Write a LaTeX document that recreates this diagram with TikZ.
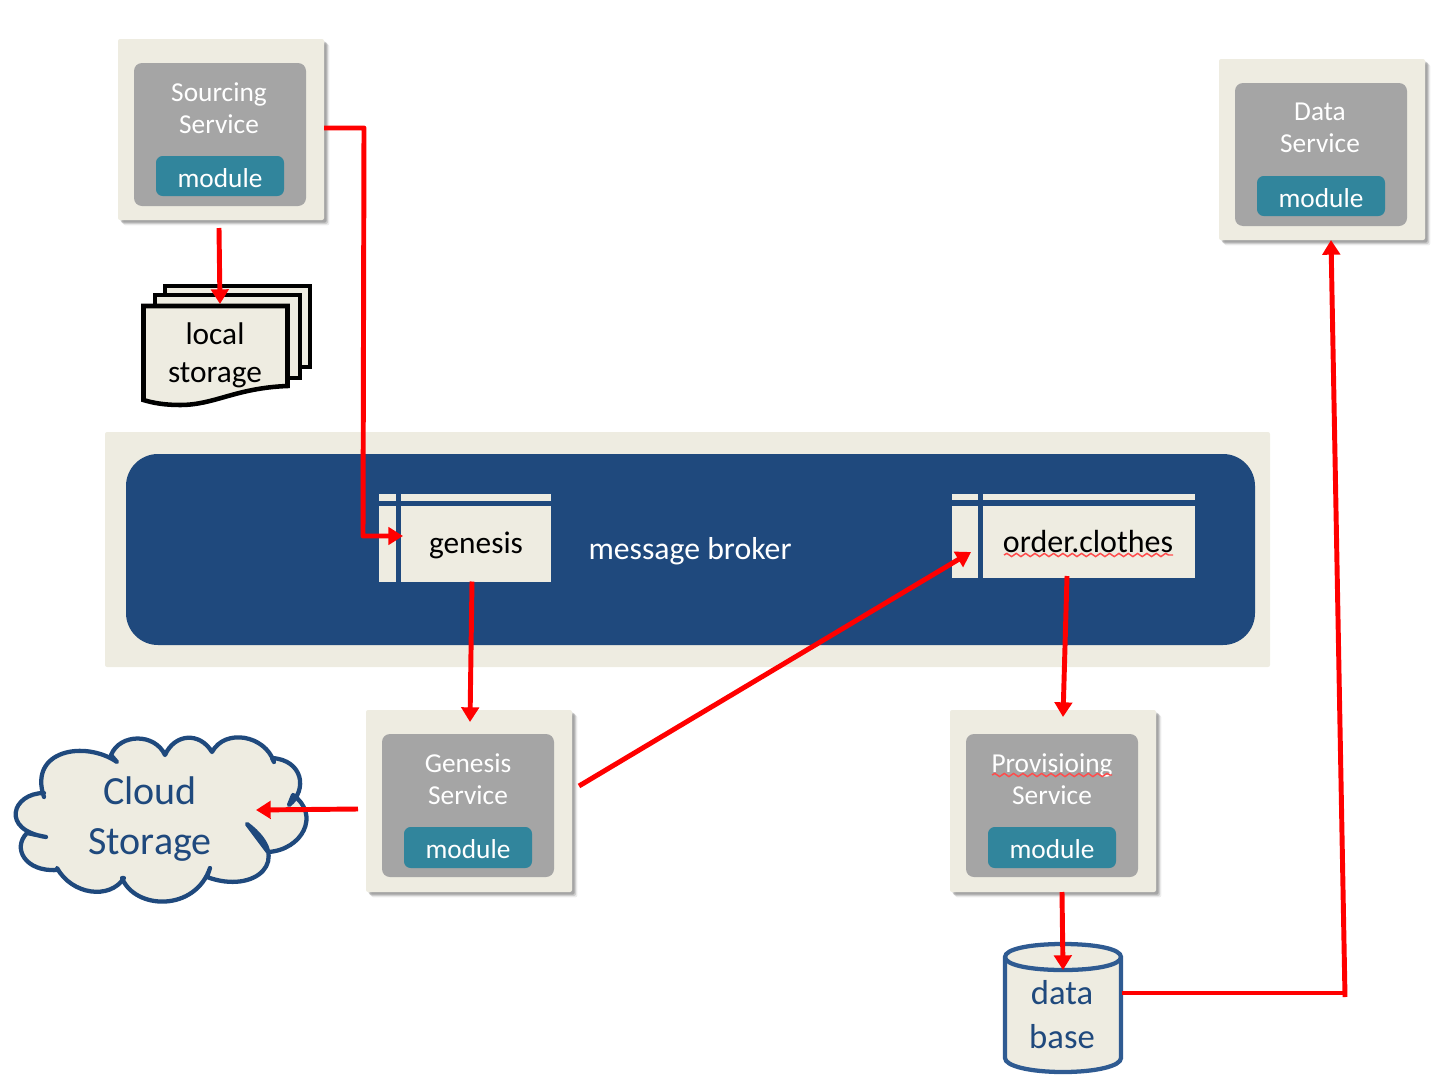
\documentclass[tikz,border=0pt]{standalone}
\usepackage{fontspec}
\setmainfont{Carlito}
\usetikzlibrary{arrows.meta,calc,shadows,decorations.pathmorphing}
\definecolor{beige}{HTML}{EEECE1}
\definecolor{greybox}{HTML}{A5A5A5}
\definecolor{tealbox}{HTML}{31859C}
\definecolor{navy}{HTML}{1F497D}
\definecolor{cylline}{HTML}{2F5B92}
\newcommand{\cloudpath}{(44,793) .. controls (12,793) and (0,830) .. (46,837)
  -- (27,833) .. controls (12,848) and (25,872) .. (57,870)
  -- (57,868) .. controls (72,895) and (110,900) .. (124,878)
  -- (122,878) .. controls (135,910) and (195,912) .. (210,868)
  -- (207,877) .. controls (255,895) and (295,860) .. (247,824)
  -- (268,852) .. controls (302,850) and (321,815) .. (293,795)
  -- (289,805) .. controls (308,790) and (303,760) .. (272,758)
  -- (274,762) .. controls (265,735) and (225,728) .. (212,752)
  .. controls (200,732) and (175,733) .. (165,755)
  .. controls (155,733) and (120,733) .. (111,755)
  -- (117,762) .. controls (85,740) and (28,750) .. (44,797)}
\tikzset{
  sized/.style 2 args={minimum width=#1*0.75pt,minimum height=#2*0.75pt,inner sep=0pt,outer sep=0pt},
  softshadow/.style={
    general shadow={shadow xshift=4pt,shadow yshift=-4pt,fill=black,opacity=.07,rounded corners=3pt},
    general shadow={shadow xshift=3pt,shadow yshift=-3pt,fill=black,opacity=.13,rounded corners=2pt},
    general shadow={shadow xshift=2pt,shadow yshift=-2pt,fill=black,opacity=.2,rounded corners=2pt}},
  outerbox/.style={fill=beige,rounded corners=1.5pt},
  greyinner/.style={fill=greybox,rounded corners=6pt},
  modulebox/.style={fill=tealbox,rounded corners=5pt},
  moduletext/.style={text=white,font=\fontsize{20.5}{24}\selectfont},
  svctext/.style={text=white,align=center,font=\fontsize{20.5}{24}\selectfont},
  topicfill/.style={fill=beige},
  topictext/.style={text=black,font=\fontsize{23.5}{28}\selectfont},
  conn/.style={draw=red,line width=3.7pt,line join=round,-{Triangle[length=11pt,width=13pt]}},
  plainconn/.style={draw=red,line width=3.7pt,line join=round},
  docsheet/.style={draw=black,fill=beige,line width=3.4pt,line join=miter},
  cloudline/.style={draw=navy,line width=3.2pt,line cap=round,line join=round},
  squiggle/.style={draw=red!70!white,line width=1.1pt,decorate,decoration={snake,amplitude=1.2pt,segment length=7pt}},
}
\begin{document}
\begin{tikzpicture}[x=0.75pt,y=-0.75pt]
\useasboundingbox (0,0) rectangle (1453,1089);
% sourcing service
\node[outerbox,softshadow,sized={206}{181}] (srcouter) at (221,129.5) {};
\node[greyinner,sized={172}{143}] (srcinner) at (220,134.5) {};
\node[svctext] (srctext) at (219,108) {Sourcing\\Service};
\node[modulebox,sized={128}{40}] (srcmod) at (220,176) {};
\node[moduletext] (srcmodt) at (220,178) {module};
% data service
\node[outerbox,softshadow,sized={206}{181}] (dataouter) at (1322,149.5) {};
\node[greyinner,sized={172}{143}] (datainner) at (1321,154.5) {};
\node[svctext] (datatext) at (1320,128) {Data\\Service};
\node[modulebox,sized={128}{40}] (datamod) at (1321,196) {};
\node[moduletext] (datamodt) at (1321,198) {module};
% local storage
\path[docsheet] (165,286) -- (310,286) -- (310,367) -- (290,367) -- (165,367) -- cycle;
\path[docsheet] (155,295) -- (300,295) -- (300,378) -- (280,378) -- (155,378) -- cycle;
\path[docsheet] (143.5,306) -- (287.5,306) -- (287.5,386)
  .. controls (235,388) and (215,405) .. (180,405)
  .. controls (165,405) and (153,403) .. (143.5,400) -- cycle;
\node[align=center,text=black,font=\fontsize{23.5}{28.5}\selectfont] (localtext) at (215,355) {local\\storage};
\coordinate (localtop) at (220,304);
% broker
\node[fill=beige,rounded corners=1.5pt,sized={1165}{235}] (brokerouter) at (687.5,549.5) {};
\node[fill=navy,rounded corners=24pt,sized={1129}{191}] (brokerinner) at (690.5,549.5) {};
\node[text=white,font=\fontsize{23.8}{28}\selectfont] (brokertext) at (690,551) {message broker};
% genesis topic
\fill[topicfill] (379,494) rectangle (396,500.5);
\fill[topicfill] (401,494) rectangle (551,500.5);
\fill[topicfill] (379,506) rectangle (396,581.5);
\node[topicfill,anchor=north west,sized={150}{75.5}] (gentopic) at (401,506) {};
\node[topictext] (gentext) at (476,545) {genesis};
% order topic
\fill[topicfill] (952,494) rectangle (978,500);
\fill[topicfill] (983,494) rectangle (1195,500);
\fill[topicfill] (952,505.5) rectangle (978,578);
\node[topicfill,anchor=north west,sized={212}{72.5}] (ordtopic) at (983,505.5) {};
\node[topictext,font=\fontsize{24}{28}\selectfont] (ordtext) at (1088,542) {order.clothes};
\draw[squiggle] (1004,555) -- (1173,555);
% genesis service
\node[outerbox,softshadow,sized={206}{182}] (genouter) at (469,801) {};
\node[greyinner,sized={172}{143}] (geninner) at (468,805.5) {};
\node[svctext] (gensvc) at (468,779) {Genesis\\Service};
\node[modulebox,sized={128}{41}] (genmod) at (468,847.5) {};
\node[moduletext] (genmodt) at (468,849.5) {module};
% provisioning service
\node[outerbox,softshadow,sized={206}{182}] (provouter) at (1053,801) {};
\node[greyinner,sized={172}{143}] (provinner) at (1052,805.5) {};
\node[svctext] (provsvc) at (1052,779) {Provisioing\\Service};
\node[modulebox,sized={128}{41}] (provmod) at (1052,847.5) {};
\node[moduletext] (provmodt) at (1052,849.5) {module};
\draw[squiggle] (992,775) -- (1112,775);
% cloud
\fill[beige] \cloudpath -- cycle;
\draw[cloudline] \cloudpath;
\node[text=navy,align=center,font=\fontsize{30}{37}\selectfont] (cloudtext) at (150,819) {Cloud\\Storage};
\coordinate (cloudport) at (256,810);
\coordinate (genleft) at (358,809);
% database
\path[fill=beige,draw=cylline,line width=3.2pt] (1005,957) -- (1005,1058)
  .. controls (1005,1066) and (1030,1072) .. (1063,1072)
  .. controls (1096,1072) and (1121,1066) .. (1121,1058) -- (1121,957)
  .. controls (1121,949) and (1096,944) .. (1063,944)
  .. controls (1030,944) and (1005,949) .. (1005,957) -- cycle;
\draw[cylline,line width=3.2pt] (1005,957) .. controls (1005,965) and (1030,970) .. (1063,970)
  .. controls (1096,970) and (1121,965) .. (1121,957);
\node[text=navy,align=center,font=\fontsize{26}{33}\selectfont] (dbtext) at (1062,1015) {data\\base};
\coordinate (dbtop) at (1063,970);
\coordinate (dbright) at (1122,993);
\coordinate (corner) at (1344,993);
\coordinate (cornerlow) at (1345,997);
% connectors
\coordinate (genentry) at (403,536);
\draw[conn] (srcouter.east |- 0,128) -- (364,128) -- (363,536) -- (genentry);
\draw[conn] (219,228) -- (localtop);
\draw[conn] (gentopic.south -| 472,0) -- (470,722);
\draw[conn] (579,786) -- (971,552);
\draw[conn] (1067,576) -- (1063,717);
\draw[conn] (1062,892) -- (dbtop);
\draw[plainconn] (dbright) -- (corner);
\draw[conn] (cornerlow) -- (1331,240);
\draw[conn] (genleft) -- (cloudport);
\end{tikzpicture}
\end{document}
